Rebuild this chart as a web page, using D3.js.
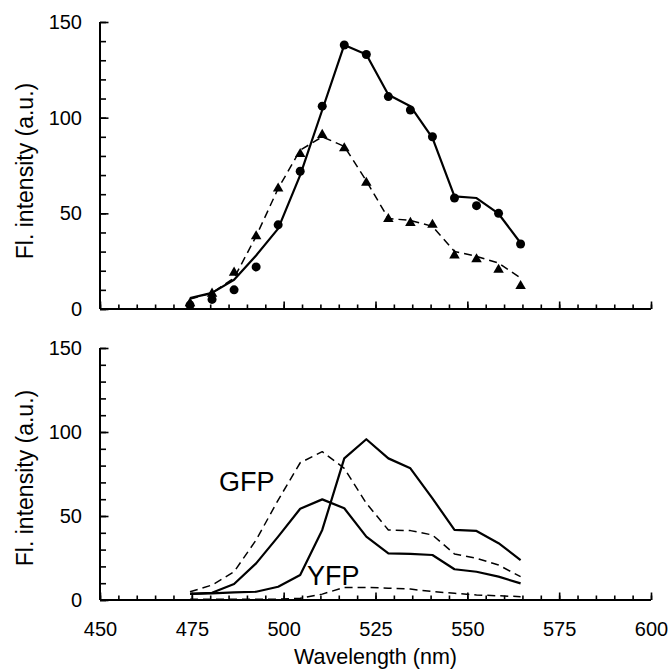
<!DOCTYPE html>
<html><head><meta charset="utf-8">
<script src="https://cdn.jsdelivr.net/npm/d3@7"></script>
<style>
body{margin:0;background:#fff;}
svg{display:block;font-family:"Liberation Sans",Arial,sans-serif;}
</style></head>
<body><svg id="chart" width="669" height="671"></svg>
<script>
// ---- data ----
const wavelengths = [474.5, 480.5, 486.5, 492.5, 498.5, 504.5, 510.5, 516.5, 522.5, 528.5, 534.5, 540.5, 546.5, 552.5, 558.5, 564.5];
// top panel
const circleMarkers = [2, 5, 10, 22, 44, 72, 106, 138, 133, 111, 104, 90, 58, 54, 50, 34];
const solidLine = [5.7, 8.4, 15.3, 28, 42, 70, 104, 138, 133, 112, 106, 89.4, 58.9, 58, 49.8, 34.5];
const triangleMarkers = [3, 8, 19, 38, 63, 81, 91, 84, 66, 47, 45, 44, 28, 26, 20.5, 12];
const dashedLine = [5.2, 8.4, 16.2, 38, 63, 83, 90, 85, 67, 47.3, 46.3, 43.2, 30.1, 27.5, 24, 16.2];
// bottom panel
const gfpDashed = [4.9, 8.9, 16.8, 35.7, 59.5, 81.7, 88.3, 78.4, 57.6, 41.7, 41.3, 38.7, 27.4, 24.8, 20.8, 13.9];
const gfpSolid = [3.6, 4.3, 9.5, 21.8, 37.7, 54.3, 59.9, 54.6, 37.7, 27.8, 27.4, 26.8, 18.3, 16.8, 13.9, 9.9];
const yfpSolid = [3.6, 4, 4.5, 4.9, 7.9, 14.9, 41.7, 84.3, 95.7, 84.3, 78.4, 60.5, 41.7, 41.1, 33.8, 23.8];
const yfpDashed = [0.5, 0.5, 0.5, 0.5, 0.5, 1, 3.5, 7.5, 7.5, 7, 6.5, 5, 4, 3, 2.5, 2];
const xMajorTicks = [450, 475, 500, 525, 550, 575, 600];
const yMajorTicks = [0, 50, 100, 150];
const yTitle = "Fl. intensity (a.u.)";
const xTitle = "Wavelength (nm)";
const labelGFP = "GFP", labelYFP = "YFP";

// ---- layout ----
const svg = d3.select("#chart");
const x = d3.scaleLinear().domain([450, 600]).range([100, 651]);
const yTop = d3.scaleLinear().domain([0, 150]).range([309, 22]);
const yBot = d3.scaleLinear().domain([0, 150]).range([600, 348]);

function drawAxes(y, withLabels, titleY) {
  const g = svg.append("g");
  const y0 = y(0);
  g.append("g").attr("transform", `translate(0,${y0})`)
    .call(d3.axisBottom(x).tickValues(d3.range(450, 601, 5)).tickSize(-4.5).tickFormat(""))
    .call(s => s.select(".domain").remove());
  const xa = g.append("g").attr("transform", `translate(0,${y0})`)
    .call(d3.axisBottom(x).tickValues(xMajorTicks).tickSize(-7.5).tickPadding(withLabels ? 22 : 0)
      .tickFormat(withLabels ? d3.format("d") : ""));
  xa.select(".domain").attr("d", `M${x(450)},0H${x(600)}`);
  g.append("g").attr("transform", `translate(${x(450)},0)`)
    .call(d3.axisLeft(y).tickValues(d3.range(0, 151, 10)).tickSize(-6).tickFormat(""))
    .call(s => s.select(".domain").remove());
  const ya = g.append("g").attr("transform", `translate(${x(450)},0)`)
    .call(d3.axisLeft(y).tickValues(yMajorTicks).tickSize(-8.5).tickPadding(18).tickFormat(d3.format("d")));
  ya.select(".domain").attr("d", `M0,${y(150)}V${y(0)}`);
  g.selectAll(".domain").attr("stroke", "#000").attr("stroke-width", 2).attr("fill", "none");
  g.selectAll(".tick line").attr("stroke", "#000").attr("stroke-width", 1.6);
  g.selectAll(".tick text").attr("font-size", 20).attr("fill", "#000").attr("font-family", "Liberation Sans, Arial, sans-serif");
  g.append("text").attr("transform", `translate(33,${titleY}) rotate(-90)`)
    .attr("text-anchor", "middle").attr("font-size", 23).text(yTitle);
}

drawAxes(yTop, false, 171);
drawAxes(yBot, true, 478);

svg.append("text").attr("x", (x(450) + x(600)) / 2).attr("y", 664)
  .attr("text-anchor", "middle").attr("font-size", 21.5).text(xTitle);

function line(y) {
  return d3.line().x((d, i) => x(wavelengths[i])).y(d => y(d));
}
function path(data, y, dashed, width) {
  svg.append("path").datum(data).attr("d", line(y))
    .attr("fill", "none").attr("stroke", "#000")
    .attr("stroke-width", width).attr("stroke-linejoin", "round")
    .attr("stroke-dasharray", dashed ? "8,5" : null);
}

// top panel
path(solidLine, yTop, false, 2.2);
path(dashedLine, yTop, true, 1.5);
svg.append("g").selectAll("circle").data(circleMarkers).join("circle")
  .attr("cx", (d, i) => x(wavelengths[i])).attr("cy", d => yTop(d)).attr("r", 4.5).attr("fill", "#000");
const tri = d3.symbol().type(d3.symbolTriangle).size(48);
svg.append("g").selectAll("path").data(triangleMarkers).join("path")
  .attr("d", tri).attr("transform", (d, i) => `translate(${x(wavelengths[i])},${yTop(d)})`).attr("fill", "#000");

// bottom panel
path(gfpDashed, yBot, true, 1.5);
path(gfpSolid, yBot, false, 2.2);
path(yfpSolid, yBot, false, 2.2);
path(yfpDashed, yBot, true, 1.5);
svg.append("text").attr("x", 219).attr("y", 491).attr("font-size", 27).text(labelGFP);
svg.append("text").attr("x", 307).attr("y", 585).attr("font-size", 27).text(labelYFP);
</script></body></html>
